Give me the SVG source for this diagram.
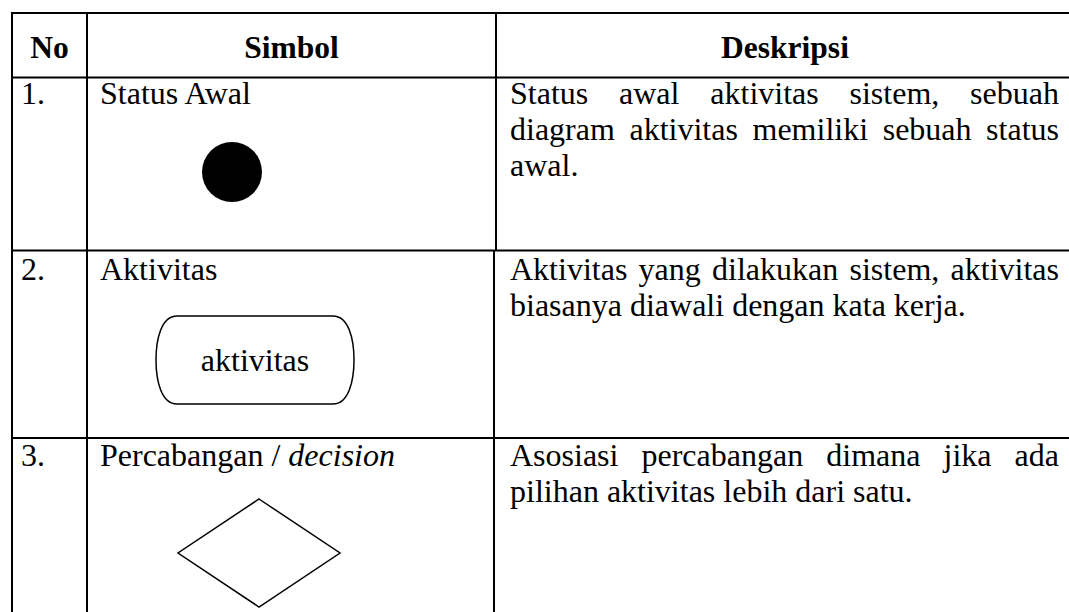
<svg xmlns="http://www.w3.org/2000/svg" width="1069" height="612" viewBox="0 0 1069 612">
<style>
.t{font-family:"Liberation Serif","Times New Roman",serif;font-size:32px;fill:#000}
.h{font-weight:bold;text-anchor:middle;font-size:31.5px}
.g{stroke:#000;stroke-width:2;fill:none}
.sym{stroke:#000;stroke-width:1.5;fill:#fff}
</style>
<rect width="1069" height="612" fill="#fff"/>
<g id="grid">
<line class="g" x1="12" y1="13" x2="1069" y2="13"/>
<line class="g" x1="12" y1="77.5" x2="1069" y2="77.5"/>
<line class="g" x1="12" y1="250.5" x2="1069" y2="250.5"/>
<line class="g" x1="12" y1="438" x2="1069" y2="438"/>
<line class="g" x1="12" y1="12" x2="12" y2="612"/>
<line class="g" x1="87" y1="12" x2="87" y2="612"/>
<line class="g" x1="496" y1="12" x2="496" y2="250.5"/>
<line class="g" x1="494" y1="250.5" x2="494" y2="612"/>
</g>
<g id="header">
<text class="t h" x="49.5" y="57.5">No</text>
<text class="t h" x="291.5" y="57.5">Simbol</text>
<text class="t h" x="785" y="57.5">Deskripsi</text>
</g>
<g id="row1">
<text class="t" x="21" y="103.5">1.</text>
<text class="t" x="100" y="103.5">Status Awal</text>
<circle id="status-awal" cx="232" cy="172" r="30" fill="#000"/>
<text class="t" y="103.5"><tspan x="510">Status</tspan><tspan x="619.05">awal</tspan><tspan x="710.3">aktivitas</tspan><tspan x="849.5">sistem,</tspan><tspan x="970.1">sebuah</tspan></text>
<text class="t" y="139.5"><tspan x="510">diagram</tspan><tspan x="629.45">aktivitas</tspan><tspan x="752.5">memiliki</tspan><tspan x="882.7">sebuah</tspan><tspan x="986.1">status</tspan></text>
<text class="t" x="510" y="175.5">awal.</text>
</g>
<g id="row2">
<text class="t" x="21" y="280">2.</text>
<text class="t" x="100" y="280">Aktivitas</text>
<g id="aktivitas">
<path class="sym" d="M177,316 H333 C349,316 354,340 354,360 C354,380 349,404 333,404 H177 C161,404 156,380 156,360 C156,340 161,316 177,316 Z"/>
<text class="t" x="255" y="371" text-anchor="middle" font-size="31">aktivitas</text>
</g>
<text class="t" y="280"><tspan x="510">Aktivitas</tspan><tspan x="638.6">yang</tspan><tspan x="712.05">dilakukan</tspan><tspan x="849.5">sistem,</tspan><tspan x="950.55">aktivitas</tspan></text>
<text class="t" x="510" y="316">biasanya diawali dengan kata kerja.</text>
</g>
<g id="row3">
<text class="t" x="21" y="466">3.</text>
<text class="t" x="100" y="466">Percabangan / <tspan font-style="italic">decision</tspan></text>
<polygon id="decision" class="sym" points="259,499 340,553 259,607 178,553"/>
<text class="t" y="466"><tspan x="510">Asosiasi</tspan><tspan x="641.5">percabangan</tspan><tspan x="826.3">dimana</tspan><tspan x="943.5">jika</tspan><tspan x="1014.6">ada</tspan></text>
<text class="t" x="510" y="502">pilihan aktivitas lebih dari satu.</text>
</g>
</svg>
